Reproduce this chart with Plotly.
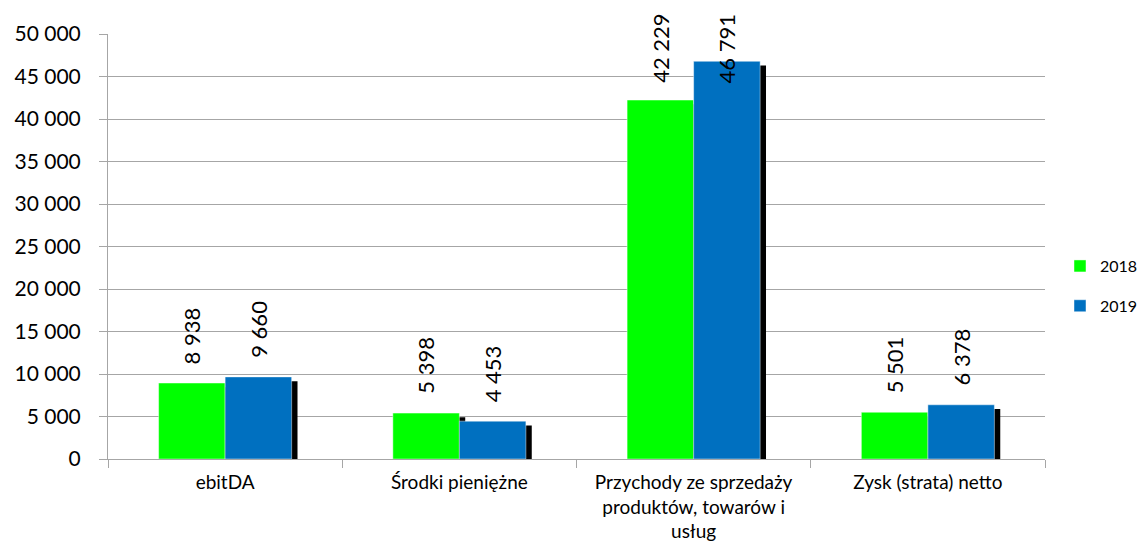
import numpy as np
import plotly.graph_objects as go

categories = ["ebitDA", "Środki pieniężne",
              "Przychody ze sprzedaży<br>produktów, towarów i<br>usług",
              "Zysk (strata) netto"]
series_names = ["2018", "2019"]
values_2018 = [8938, 5398, 42229, 5501]
values_2019 = [9660, 4453, 46791, 6378]
y_ticks = list(range(0, 50001, 5000))

colors = {"2018": "#00FF00", "2019": "#0070C0"}
FONT = "Lato, Calibri, sans-serif"
BAR_W = 0.284
SHADOW_DX = 0.025
SHADOW_DROP = 500
LABEL_GAP = 2000
LABEL_CAP = 44000

def fmt(v):
    return f"{v:,}".replace(",", " ")

fig = go.Figure()
series = [("2018", values_2018, -BAR_W), ("2019", values_2019, 0.0)]

# shadows
for name, vals, off in series:
    fig.add_trace(go.Bar(
        x=categories, y=[v - SHADOW_DROP for v in vals],
        width=BAR_W, offset=off + SHADOW_DX,
        marker=dict(color="black", line=dict(width=0)),
        showlegend=False, hoverinfo="skip"))

for name, vals, off in series:
    fig.add_trace(go.Bar(
        x=categories, y=vals, name=name, legendgroup=name,
        width=BAR_W, offset=off,
        marker=dict(color=colors[name], line=dict(color="rgba(255,255,255,0.45)", width=1))))

annotations = []
for name, vals, off in series:
    for i, v in enumerate(vals):
        annotations.append(dict(
            x=i + off + BAR_W / 2, y=min(v + LABEL_GAP, LABEL_CAP),
            xref="x", yref="y", text=fmt(v), textangle=-90,
            showarrow=False, xanchor="center", yanchor="bottom",
            font=dict(family=FONT, size=22, color="black")))

fig.update_layout(
    width=1140, height=545,
    margin=dict(l=108, r=95, t=34, b=86, autoexpand=False),
    paper_bgcolor="white", plot_bgcolor="white",
    barmode="overlay",
    separators=", ",
    font=dict(family=FONT, color="black"),
    annotations=annotations,
    legend=dict(x=1.016, y=0.494, xanchor="left", yanchor="top",
                font=dict(family=FONT, size=16, color="black"),
                tracegroupgap=16, traceorder="grouped",
                itemwidth=30, bgcolor="rgba(0,0,0,0)"),
)
fig.update_xaxes(
    type="category", range=[-0.5, 3.5], automargin=False,
    showline=True, linecolor="#A6A6A6", linewidth=1,
    ticks="outside", tickson="boundaries", ticklen=8, tickcolor="#A6A6A6",
    showgrid=False, ticklabelstandoff=6,
    tickfont=dict(family=FONT, size=19, color="black"))
fig.update_yaxes(
    range=[0, 50000], tickvals=y_ticks, tickformat=",d", automargin=False,
    showline=True, linecolor="#A6A6A6", linewidth=1,
    ticks="outside", ticklen=8, tickcolor="#A6A6A6",
    showgrid=True, gridcolor="#A6A6A6", gridwidth=1,
    zeroline=False, ticklabelstandoff=14,
    tickfont=dict(family=FONT, size=21, color="black"))

fig.write_html("out.html", config={"displayModeBar": False},
               post_script="document.body.style.margin='0';document.body.style.overflow='hidden';")
